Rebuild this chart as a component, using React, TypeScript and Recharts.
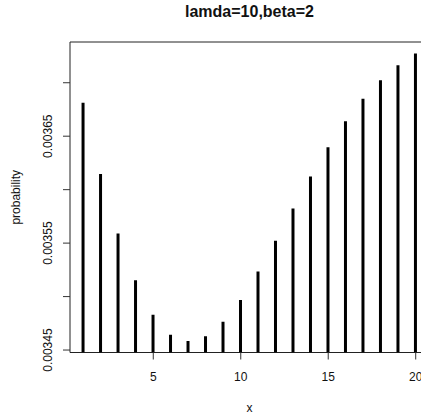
import React from "react";
import { BarChart, Bar, XAxis, YAxis, ReferenceArea, Label } from "recharts";

const xValues = [1, 2, 3, 4, 5, 6, 7, 8, 9, 10, 11, 12, 13, 14, 15, 16, 17, 18, 19, 20];
const probabilities = [
  0.0036812, 0.0036147, 0.003559, 0.0035153, 0.0034831, 0.0034643, 0.0034584, 0.0034628,
  0.0034765, 0.0034969, 0.0035234, 0.0035522, 0.0035824, 0.0036124, 0.0036396, 0.003664,
  0.003685, 0.0037024, 0.0037164, 0.0037274,
];
const xTicks = [5, 10, 15, 20];
const yTicks = [0.00345, 0.0035, 0.00355, 0.0036, 0.00365, 0.0037];
const yTickLabels = ["0.00345", "", "0.00355", "", "0.00365", ""];
const xDomain = [0.24, 20.76];
const yDomain = [0.0034477, 0.0037381];
const title = "lamda=10,beta=2";

const data = xValues.map((x, i) => ({ x, p: probabilities[i] }));

const FONT = '"Liberation Sans", Arial, Helvetica, sans-serif';
const INK = "#111";

const YTick = (props: any) => {
  const { x, y, index } = props;
  const label = yTickLabels[index];
  if (!label) return null;
  return (
    <text
      x={x}
      y={y}
      transform={`rotate(-90 ${x} ${y})`}
      textAnchor="middle"
      fontSize={12}
      fontFamily={FONT}
      fill={INK}
    >
      {label}
    </text>
  );
};

const YLabel = (props: any) => {
  const vb = props.viewBox || {};
  const cx = vb.x + 20;
  const cy = vb.y + vb.height / 2;
  return (
    <text
      x={cx}
      y={cy}
      transform={`rotate(-90 ${cx} ${cy})`}
      textAnchor="middle"
      fontSize={12}
      fontFamily={FONT}
      fill={INK}
    >
      probability
    </text>
  );
};

export default function App() {
  return (
    <div
      style={{
        position: "absolute",
        left: 0,
        top: 0,
        width: 421,
        height: 417,
        overflow: "hidden",
        background: "#fff",
      }}
    >
      <div
        style={{
          position: "absolute",
          left: 70,
          top: 4,
          width: 359,
          textAlign: "center",
          fontFamily: FONT,
          fontWeight: "bold",
          fontSize: 16,
          lineHeight: "16px",
          color: INK,
        }}
      >
        {title}
      </div>
      <BarChart
        width={429}
        height={417}
        data={data}
        margin={{ top: 42, right: 0, left: 0, bottom: 0 }}
      >
        <XAxis
          dataKey="x"
          type="number"
          domain={xDomain}
          allowDataOverflow
          ticks={xTicks}
          axisLine={false}
          tickLine={{ stroke: "#333" }}
          tickSize={7}
          tickMargin={13}
          height={64.5}
          tick={{ fontSize: 12, fontFamily: FONT, fill: INK }}
        >
          <Label
            value="x"
            position="insideBottom"
            offset={5}
            style={{ fontSize: 12, fontFamily: FONT, fill: INK }}
          />
        </XAxis>
        <YAxis
          type="number"
          domain={yDomain}
          allowDataOverflow
          ticks={yTicks}
          axisLine={false}
          tickLine={{ stroke: "#333" }}
          tickSize={7}
          tickMargin={11}
          width={70}
          tick={<YTick />}
        >
          <Label content={<YLabel />} />
        </YAxis>
        <ReferenceArea
          x1={xDomain[0]}
          x2={xDomain[1]}
          y1={yDomain[0]}
          y2={yDomain[1]}
          fill="none"
          stroke="#222"
          strokeWidth={1}
          ifOverflow="visible"
        />
        <Bar dataKey="p" fill="#000" barSize={3} isAnimationActive={false} />
      </BarChart>
    </div>
  );
}
